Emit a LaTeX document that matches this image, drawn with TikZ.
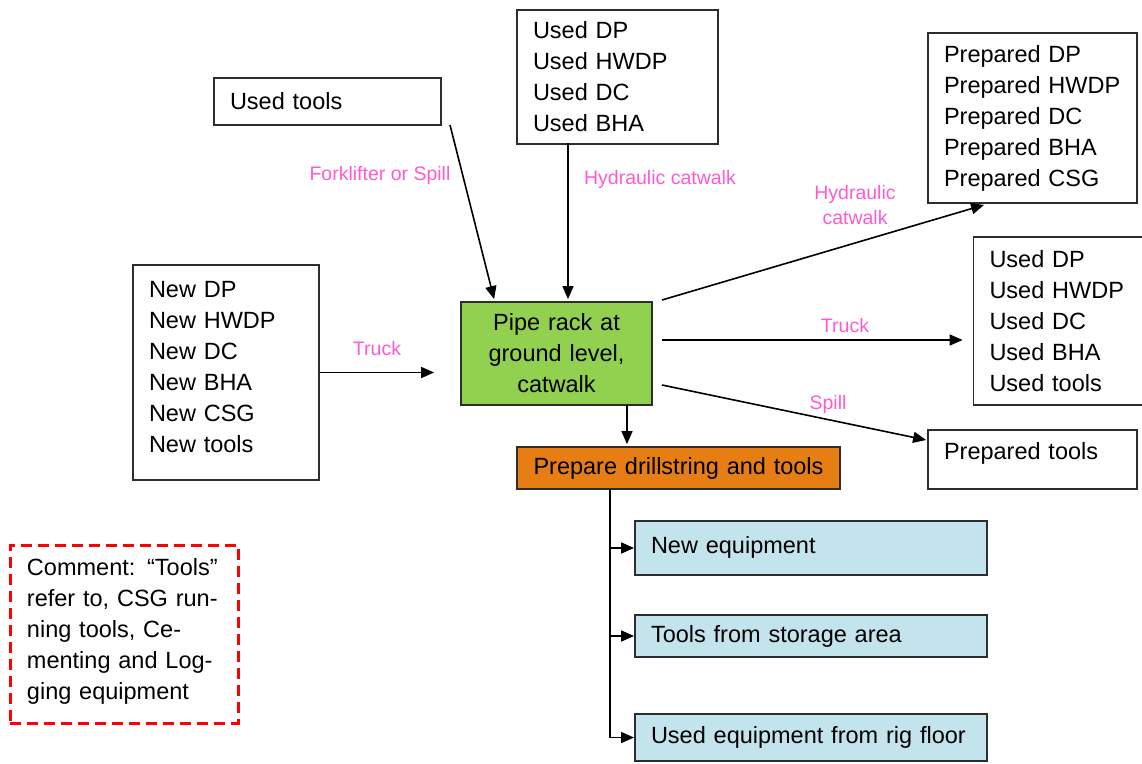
\documentclass[tikz,border=0pt]{standalone}
\usepackage{fontspec}
\setmainfont{Liberation Sans}
\usetikzlibrary{arrows.meta}
\definecolor{pinklab}{RGB}{255,90,210}
\definecolor{greenbox}{RGB}{146,208,80}
\definecolor{orangebox}{RGB}{230,126,20}
\definecolor{bluebox}{RGB}{195,228,236}
\definecolor{edge}{RGB}{45,45,45}
\tikzset{
  box/.style={draw=edge, line width=1.8pt, fill=white, inner xsep=16pt, inner ysep=0pt, align=left,
    font=\fontsize{23.5}{31}\selectfont},
  cbox/.style={box, align=center, inner xsep=4pt},
  lab/.style={text=pinklab, font=\fontsize{19.5}{25}\selectfont, inner sep=0pt, align=center},
  arr/.style={draw=black, line width=1.6pt, -{Triangle[length=13pt,width=11pt]}},
  plain/.style={draw=black, line width=1.6pt}
}
\begin{document}
\begin{tikzpicture}[x=1pt,y=-1pt]
\useasboundingbox (0,0) rectangle (1142,763);

% boxes
\node[box, minimum width=227, minimum height=47, text width=195] (usedtools) at (327.5,101.5) {Used tools};
\node[box, minimum width=201, minimum height=134, text width=169] (usedA) at (617.5,77) {Used DP\\Used HWDP\\Used DC\\Used BHA};
\node[box, minimum width=209, minimum height=170, text width=177] (prepA) at (1032.5,118) {Prepared DP\\Prepared HWDP\\Prepared DC\\Prepared BHA\\Prepared CSG};
\node[box, minimum width=186, minimum height=215, text width=154] (newA) at (226,372.5) {New DP\\New HWDP\\New DC\\New BHA\\New CSG\\New tools\\[-19pt]\mbox{}};
\node[box, minimum width=171, minimum height=168, text width=139] (usedB) at (1059,321) {Used DP\\Used HWDP\\Used DC\\Used BHA\\Used tools};
\node[box, minimum width=209, minimum height=59, text width=177] (preptools) at (1032.5,459.5) {Prepared tools\\[-14pt]\mbox{}};
\node[cbox, fill=greenbox, minimum width=191, minimum height=103, text width=183] (green) at (556.5,353.5) {Pipe rack at\\ground level,\\catwalk};
\node[cbox, fill=orangebox, minimum width=323, minimum height=42, text width=315] (orange) at (678.5,468) {Prepare drillstring and tools};
\node[box, fill=bluebox, minimum width=352, minimum height=54, text width=320] (blue1) at (811,548) {New equipment\\[-25pt]\mbox{}};
\node[box, fill=bluebox, minimum width=352, minimum height=42, text width=320] (blue2) at (811,636) {Tools from storage area};
\node[box, fill=bluebox, minimum width=352, minimum height=47, text width=320] (blue3) at (811,737.5) {Used equipment from rig floor};
\node[box, draw=red, dash pattern=on 11pt off 6pt, line width=3pt, inner xsep=17pt, minimum width=228, minimum height=178, text width=194] (comment) at (124,634) {Comment: “Tools”\\refer to, CSG run-\\ning tools, Ce-\\menting and Log-\\ging equipment\\[-20pt]\mbox{}};

% connectors
\draw[arr, shorten >=26pt] (newA.east) -- (newA.east -| green.west);
\coordinate (t1) at (450,125);
\draw[arr] (t1) -- ([xshift=34pt,yshift=2pt]green.north west);
\coordinate (v1) at (568,143);
\draw[arr, shorten >=2pt] (v1) -- (v1 |- green.north);
\coordinate (o1) at (662,300);
\coordinate (o2) at (662,340);
\coordinate (o3) at (662,385);
\draw[arr] (o1) -- ([xshift=57pt,yshift=-1pt]prepA.south west);
\draw[arr, shorten >=10pt] (o2) -- (o2 -| usedB.west);
\draw[arr] (o3) -- ([xshift=-1pt,yshift=19.5pt]preptools.west);
\coordinate (g1) at (627,405);
\draw[arr, shorten >=2pt] (g1) -- (g1 |- orange.north);
\coordinate (t0) at (610,489);
\draw[arr] (t0) |- (blue1.west);
\draw[arr] (t0) |- (blue2.west);
\draw[arr] (t0) |- (blue3.west);

% labels
\node[lab] (l1) at (377,349) {Truck};
\node[lab] (l2) at (380,175) {Forklifter or Spill};
\node[lab] (l3) at (660,179) {Hydraulic catwalk};
\node[lab] (l4) at (855,205) {Hydraulic\\catwalk};
\node[lab] (l5) at (845,326) {Truck};
\node[lab] (l6) at (828,404) {Spill};
\end{tikzpicture}
\end{document}
